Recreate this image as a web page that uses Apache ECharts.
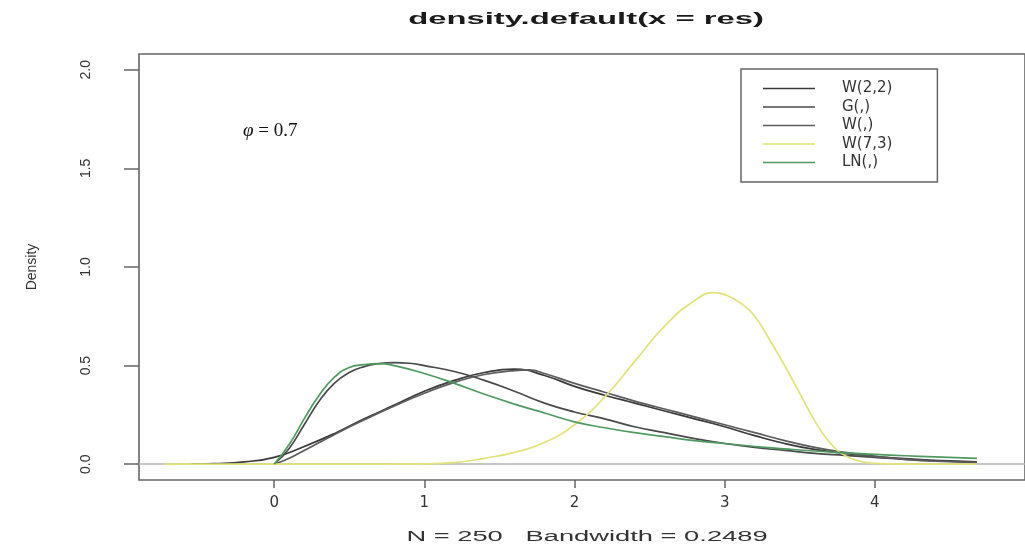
<!DOCTYPE html>
<html>
<head>
<meta charset="utf-8">
<script src="https://cdn.jsdelivr.net/npm/echarts@6/dist/echarts.min.js"></script>
<style>
html,body{margin:0;padding:0;background:#fff;}
#c{width:1025px;height:555px;}
</style>
</head>
<body>
<div id="c"></div>
<script>
// ---- data ----
const titleText = 'density.default(x = res)';
const xCaption = 'N = 250   Bandwidth = 0.2489';
const yName = 'Density';
const annotation = ['\u03c6', ' = 0.7'];
const xTicks = [0, 1, 2, 3, 4];
const yTicks = [0, 0.5, 1, 1.5, 2];
const seriesNames = ['W(2,2)', 'G(,)', 'W(,)', 'W(7,3)', 'LN(,)'];

const w22X = [-0.55, -0.4, -0.2, 0, 0.2, 0.4, 0.6, 0.8, 1.0, 1.2, 1.4, 1.6, 1.8, 2.0, 2.2, 2.4, 2.6, 2.8, 3.0, 3.2, 3.4, 3.6, 3.8, 4.0, 4.2, 4.4, 4.68];
const w22Y = [0, 0.003, 0.012, 0.035, 0.09, 0.155, 0.23, 0.30, 0.37, 0.425, 0.465, 0.482, 0.45, 0.395, 0.35, 0.31, 0.27, 0.23, 0.19, 0.145, 0.105, 0.075, 0.055, 0.04, 0.028, 0.02, 0.012];

const gX = [0, 0.1, 0.2, 0.3, 0.4, 0.5, 0.6, 0.7, 0.8, 0.9, 1.0, 1.2, 1.4, 1.6, 1.8, 2.0, 2.2, 2.4, 2.6, 2.8, 3.0, 3.2, 3.4, 3.6, 3.8, 4.0, 4.2, 4.4, 4.68];
const gY = [0, 0.08, 0.2, 0.32, 0.41, 0.465, 0.495, 0.51, 0.515, 0.512, 0.5, 0.47, 0.425, 0.37, 0.31, 0.265, 0.23, 0.19, 0.16, 0.13, 0.105, 0.085, 0.07, 0.055, 0.045, 0.035, 0.025, 0.018, 0.01];

const wX = [0, 0.1, 0.2, 0.4, 0.6, 0.8, 1.0, 1.2, 1.4, 1.6, 1.7, 1.8, 2.0, 2.2, 2.4, 2.6, 2.8, 3.0, 3.2, 3.4, 3.6, 3.8, 4.0, 4.2, 4.4, 4.68];
const wY = [0, 0.03, 0.07, 0.15, 0.225, 0.295, 0.36, 0.415, 0.455, 0.475, 0.478, 0.46, 0.41, 0.365, 0.32, 0.28, 0.24, 0.2, 0.16, 0.12, 0.085, 0.06, 0.04, 0.025, 0.015, 0.008];

const w73X = [-0.73, 0, 0.5, 1.0, 1.2, 1.4, 1.6, 1.8, 2.0, 2.2, 2.4, 2.6, 2.8, 2.93, 3.0, 3.1, 3.2, 3.3, 3.4, 3.5, 3.6, 3.7, 3.8, 3.9, 4.0, 4.2, 4.68];
const w73Y = [0, 0, 0, 0.002, 0.008, 0.03, 0.06, 0.11, 0.2, 0.34, 0.52, 0.7, 0.83, 0.87, 0.86, 0.82, 0.75, 0.63, 0.5, 0.36, 0.22, 0.11, 0.045, 0.015, 0.004, 0, 0];

const lnX = [0, 0.1, 0.2, 0.3, 0.4, 0.5, 0.6, 0.7, 0.8, 1.0, 1.2, 1.4, 1.6, 1.8, 2.0, 2.2, 2.4, 2.6, 2.8, 3.0, 3.2, 3.4, 3.6, 3.8, 4.0, 4.2, 4.4, 4.68];
const lnY = [0, 0.1, 0.23, 0.35, 0.44, 0.49, 0.505, 0.51, 0.5, 0.46, 0.41, 0.355, 0.305, 0.26, 0.215, 0.185, 0.16, 0.14, 0.12, 0.105, 0.09, 0.078, 0.067, 0.058, 0.05, 0.043, 0.037, 0.03];

const seriesX = [w22X, gX, wX, w73X, lnX];
const seriesY = [w22Y, gY, wY, w73Y, lnY];
const seriesColors = ['#3a3a3a', '#4a4a4a', '#5c5c5c', '#e2e27a', '#4f9a60'];

// ---- chart ----
const chart = echarts.init(document.getElementById('c'), null, {renderer: 'canvas'});
const pair = (xs, ys) => xs.map((x, i) => [x, ys[i]]);

const series = seriesNames.map((name, i) => ({
  name: name,
  type: 'line',
  data: pair(seriesX[i], seriesY[i]),
  symbol: 'none',
  smooth: true,
  lineStyle: {color: seriesColors[i], width: 1.7},
  itemStyle: {color: seriesColors[i]},
  z: 3
}));
series[0].markLine = {
  silent: true,
  symbol: 'none',
  label: {show: false},
  lineStyle: {color: '#b4b4b4', type: 'solid', width: 1.5},
  data: [{yAxis: 0}],
  z: 1
};

chart.setOption({
  animation: false,
  backgroundColor: '#ffffff',
  grid: {
    left: 139, top: 54, right: -24, bottom: 75,
    show: true, borderColor: '#666', borderWidth: 1.6, backgroundColor: 'transparent'
  },
  xAxis: {
    type: 'value', min: -0.9, max: 5.0,
    axisLine: {show: false, onZero: false},
    splitLine: {show: false},
    axisTick: {show: true, length: 8, customValues: xTicks, lineStyle: {color: '#666', width: 1.5}},
    axisLabel: {customValues: xTicks, margin: 16, color: '#333', fontSize: 15, fontFamily: 'DejaVu Sans'}
  },
  yAxis: {
    type: 'value', min: -0.08, max: 2.08,
    name: yName, nameLocation: 'middle', nameGap: 100, nameRotate: 90,
    nameTextStyle: {color: '#333', fontSize: 14, fontFamily: 'Liberation Sans'},
    axisLine: {show: false, onZero: false},
    splitLine: {show: false},
    axisTick: {show: true, length: 15, customValues: yTicks, lineStyle: {color: '#666', width: 1.5}},
    axisLabel: {
      customValues: yTicks, rotate: 90, margin: 46, color: '#333', fontSize: 14,
      fontFamily: 'Liberation Sans', formatter: v => v.toFixed(1)
    }
  },
  legend: {
    data: seriesNames,
    orient: 'vertical',
    left: 741, top: 69,
    padding: [12, 45, 12, 22],
    borderColor: '#666', borderWidth: 1.5,
    icon: 'rect',
    itemWidth: 52, itemHeight: 1.6, itemGap: 3.5,
    selectedMode: false,
    textStyle: {color: '#333', fontSize: 15, fontFamily: 'DejaVu Sans', lineHeight: 14, padding: [0, 0, 0, 22]}
  },
  graphic: [
    {
      type: 'text', x: 586, y: 20, scaleX: 2.05, z: 10,
      style: {text: titleText, x: 0, y: 0, align: 'center', verticalAlign: 'middle',
        font: 'bold 16px "Liberation Sans"', fill: '#1a1a1a'}
    },
    {
      type: 'text', x: 587, y: 537, scaleX: 1.95, z: 10,
      style: {text: xCaption, x: 0, y: 0, align: 'center', verticalAlign: 'middle',
        font: '14px "Liberation Sans"', fill: '#333'}
    },
    {
      type: 'text', x: 243, y: 131, z: 10,
      style: {
        text: '{p|' + annotation[0] + '}{t|' + annotation[1] + '}',
        x: 0, y: 0, align: 'left', verticalAlign: 'middle',
        rich: {
          p: {fontFamily: 'Liberation Serif', fontStyle: 'italic', fontSize: 19, fill: '#111'},
          t: {fontFamily: 'Liberation Serif', fontSize: 19, fill: '#111'}
        }
      }
    }
  ],
  series: series
});
</script>
</body>
</html>
